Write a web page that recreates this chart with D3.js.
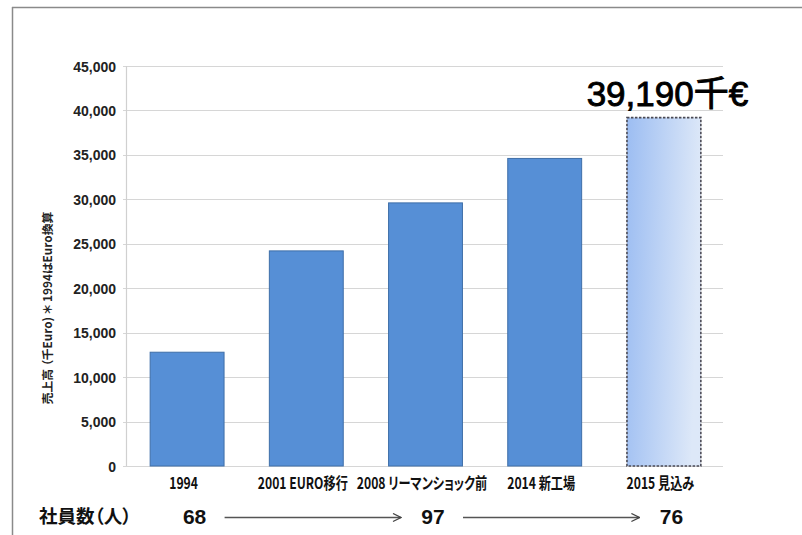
<!DOCTYPE html>
<html><head><meta charset="utf-8">
<script src="https://cdn.jsdelivr.net/npm/d3@7"></script>
<style>
body{margin:0;background:#fff;}
text{font-family:"Liberation Sans",Arial,"Noto Sans CJK JP",sans-serif;}
.cj{font-family:"Noto Sans CJK JP",sans-serif;font-feature-settings:"palt";}
</style></head>
<body><svg id="c" width="802" height="535"></svg>
<script>
const categories = ["1994","2001 EURO移行","2008 リーマンショック前","2014 新工場","2015 見込み"];
const sales = [12800, 24200, 29600, 34600, 39190];
const yTicks = [0,5000,10000,15000,20000,25000,30000,35000,40000,45000];
const employeeCats = ["1994","2008 リーマンショック前","2015 見込み"];
const employees = ["68","97","76"];
const calloutText = "39,190千€";
const yTitle = "売上高 （千Euro) ＊ 1994はEuro換算";
const rowTitle = "社員数（人）";

const svg = d3.select("#c");
const defs = svg.append("defs");
const g1 = defs.append("linearGradient").attr("id","fc").attr("x1","0").attr("x2","1").attr("y1","0").attr("y2","0.15");
g1.append("stop").attr("offset","0").attr("stop-color","#9cbdf2");
g1.append("stop").attr("offset","1").attr("stop-color","#dde8f8");
const mk = defs.append("marker").attr("id","arr").attr("viewBox","0 0 10 10").attr("refX",9).attr("refY",5)
  .attr("markerWidth",10).attr("markerHeight",10).attr("markerUnits","userSpaceOnUse").attr("orient","auto");
mk.append("path").attr("d","M1,1 L9,5 L1,9").attr("fill","none").attr("stroke","#444").attr("stroke-width",1.3);

// frame
svg.append("line").attr("x1",12).attr("x2",802).attr("y1",7.5).attr("y2",7.5).attr("stroke","#8a8a8a").attr("stroke-width",1.5);
svg.append("line").attr("x1",12.5).attr("x2",12.5).attr("y1",7).attr("y2",535).attr("stroke","#8a8a8a").attr("stroke-width",1.5);

const x = d3.scaleBand().domain(categories).range([127,723]).paddingInner(0.38).paddingOuter(0.19);
const y = d3.scaleLinear().domain([0,45000]).range([466,66]);

// grid
svg.append("g").selectAll("line").data(yTicks).join("line")
  .attr("x1",123).attr("x2",723).attr("y1",d=>Math.round(y(d))+0.5).attr("y2",d=>Math.round(y(d))+0.5)
  .attr("stroke","#d6d6d6").attr("stroke-width",1.2);
svg.append("line").attr("x1",126.5).attr("x2",126.5).attr("y1",y(45000)).attr("y2",y(0)).attr("stroke","#d0d0d0").attr("stroke-width",1.2);

const yAxis = d3.axisLeft(y).tickValues(yTicks).tickSize(0).tickPadding(11).tickFormat(d3.format(","));
const ga = svg.append("g").attr("transform","translate(127,0)").call(yAxis);
ga.select(".domain").remove();
ga.selectAll("text").attr("font-size",14).attr("font-weight","bold").attr("fill","#222").attr("dy","0.36em")
  .style("font-family","'Liberation Sans',Arial,sans-serif");

// bars
svg.append("g").selectAll("rect").data(categories.slice(0,4)).join("rect")
  .attr("x",d=>x(d)+0.5).attr("y",(d,i)=>y(sales[i])).attr("width",x.bandwidth()).attr("height",(d,i)=>y(0)-y(sales[i]))
  .attr("fill","#568fd6").attr("stroke","#3f6fa8").attr("stroke-width",1);
const last = categories[4];
svg.append("rect").attr("x",x(last)+0.5).attr("y",y(sales[4])).attr("width",x.bandwidth()).attr("height",y(0)-y(sales[4]))
  .attr("fill","url(#fc)").attr("stroke","#4a4a55").attr("stroke-width",1.6).attr("stroke-dasharray","2.5,1.5");

// callout
svg.append("text").attr("x",x(last)+x.bandwidth()/2+4).attr("y",y(sales[4])-12).attr("text-anchor","middle")
  .attr("font-size",35).attr("font-weight","normal").attr("fill","#000").attr("stroke","#000").attr("stroke-width",0.9)
  .text(calloutText);

// x labels (condensed)
svg.append("g").selectAll("text").data(categories).join("text")
  .attr("class","cj")
  .attr("transform",d=>`translate(${x(d)+x.bandwidth()/2-3},489) scale(0.76,1)`)
  .attr("text-anchor","middle").attr("font-size",16).attr("font-weight","bold").attr("fill","#111")
  .text(d=>d);

// y title
svg.append("text").attr("class","cj").attr("transform","translate(52,308) rotate(-90)").attr("text-anchor","middle")
  .attr("font-size",11.8).attr("font-weight","bold").attr("fill","#222").text(yTitle);

// employees row
svg.append("text").attr("class","cj").attr("x",39).attr("y",523).attr("font-size",18.5).attr("font-weight","bold").attr("fill","#111")
  .text(rowTitle);
const ex = d => x(d)+x.bandwidth()/2+8;
svg.append("g").selectAll("text").data(employeeCats).join("text")
  .attr("x",ex).attr("y",524).attr("text-anchor","middle").attr("font-size",21).attr("font-weight","bold").attr("fill","#111")
  .text((d,i)=>employees[i]);
for (let i=0;i<employeeCats.length-1;i++){
  svg.append("line").attr("x1",ex(employeeCats[i])+30).attr("x2",ex(employeeCats[i+1])-32)
    .attr("y1",517.5).attr("y2",517.5).attr("stroke","#555").attr("stroke-width",1.4).attr("marker-end","url(#arr)");
}
</script></body></html>
